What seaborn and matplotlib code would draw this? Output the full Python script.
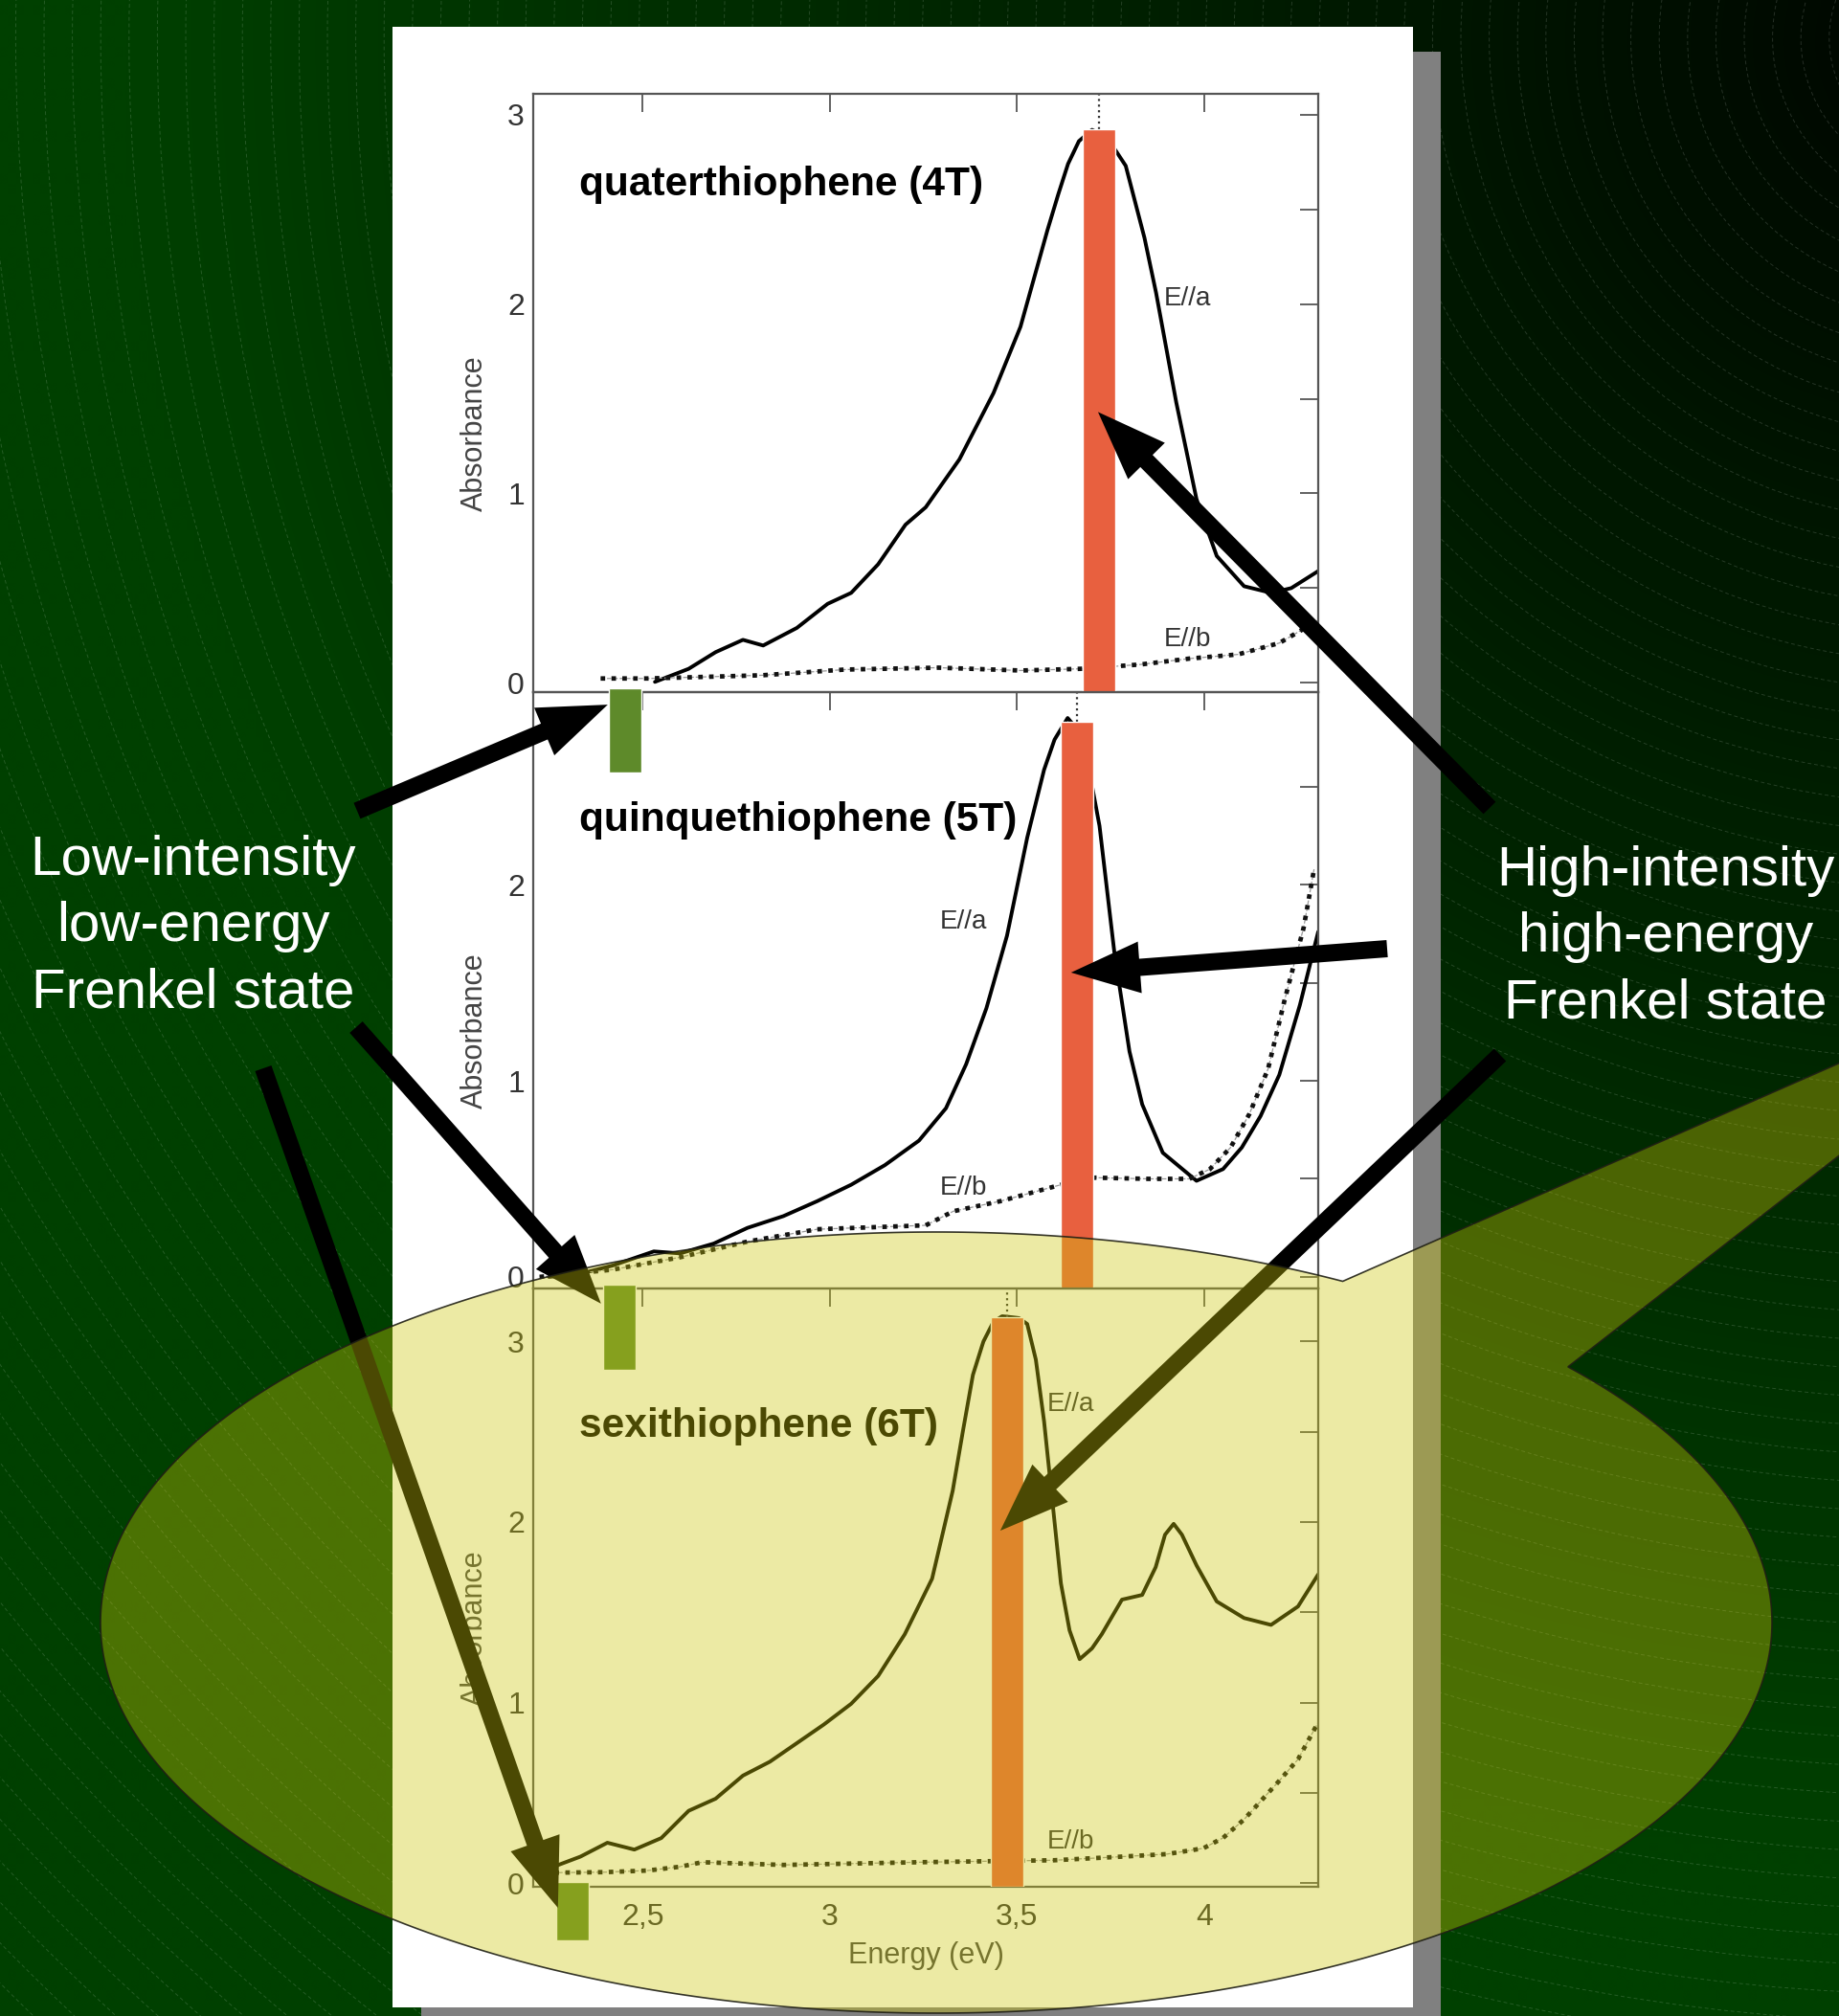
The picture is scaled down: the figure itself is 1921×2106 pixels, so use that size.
import numpy as np
import matplotlib
matplotlib.use('Agg')
import matplotlib.pyplot as plt
import seaborn as sns
from matplotlib.patches import Rectangle, Circle, Polygon
from matplotlib.ticker import FixedLocator, MultipleLocator

sns.set_style('white')
plt.rcParams['font.family'] = ['Liberation Sans', 'DejaVu Sans']

# spectra (energy in eV, absorbance)
e4a_x = [2.533, 2.623, 2.695, 2.768, 2.822, 2.912, 2.994, 3.057, 3.129, 3.202, 3.256, 3.346, 3.437,
         3.509, 3.581, 3.61, 3.636, 3.665, 3.70, 3.74, 3.79, 3.84, 3.871, 3.925, 3.979, 4.033,
         4.106, 4.178, 4.232, 4.304]
e4a_y = [0.005, 0.074, 0.162, 0.227, 0.197, 0.29, 0.417, 0.475, 0.626, 0.835, 0.927, 1.18, 1.53,
         1.88, 2.39, 2.58, 2.74, 2.86, 2.92, 2.88, 2.73, 2.35, 2.06, 1.48, 0.97, 0.67,
         0.51, 0.475, 0.50, 0.59]
e4b_x = [2.388, 2.514, 2.64, 2.82, 3.04, 3.29, 3.51, 3.67, 3.83, 3.96, 4.09, 4.20, 4.304]
e4b_y = [0.023, 0.023, 0.03, 0.04, 0.07, 0.08, 0.065, 0.074, 0.097, 0.128, 0.15, 0.21, 0.33]

e5a_x = [2.25, 2.334, 2.42, 2.53, 2.60, 2.69, 2.78, 2.876, 2.966, 3.057, 3.147, 3.238, 3.31, 3.364,
         3.418, 3.473, 3.527, 3.572, 3.60, 3.635, 3.675, 3.72, 3.76, 3.80, 3.834, 3.889, 3.979,
         4.05, 4.10, 4.15, 4.20, 4.255, 4.304]
e5a_y = [0.0, 0.016, 0.058, 0.13, 0.12, 0.17, 0.25, 0.31, 0.386, 0.47, 0.57, 0.695, 0.86, 1.085,
         1.37, 1.74, 2.24, 2.586, 2.74, 2.85, 2.76, 2.30, 1.65, 1.15, 0.88, 0.633, 0.49,
         0.55, 0.66, 0.82, 1.03, 1.386, 1.76]
e5b_x = [2.225, 2.42, 2.60, 2.78, 2.966, 3.11, 3.256, 3.33, 3.455, 3.617, 3.708, 3.85, 3.96,
         4.015, 4.07, 4.12, 4.17, 4.214, 4.265, 4.293]
e5b_y = [0.0, 0.037, 0.10, 0.18, 0.243, 0.253, 0.263, 0.335, 0.386, 0.47, 0.506, 0.50, 0.50,
         0.55, 0.66, 0.83, 1.06, 1.41, 1.78, 2.08]

e6a_x = [2.215, 2.252, 2.334, 2.406, 2.478, 2.55, 2.623, 2.695, 2.768, 2.84, 2.912, 2.984, 3.057,
         3.129, 3.20, 3.273, 3.328, 3.355, 3.382, 3.41, 3.437, 3.46, 3.48, 3.505, 3.527, 3.55,
         3.572, 3.595, 3.617, 3.64, 3.667, 3.70, 3.726, 3.78, 3.834, 3.87, 3.895, 3.918, 3.94,
         3.979, 4.033, 4.106, 4.178, 4.25, 4.304]
e6a_y = [0.06, 0.082, 0.146, 0.223, 0.185, 0.249, 0.40, 0.467, 0.595, 0.672, 0.775, 0.878, 0.993,
         1.147, 1.378, 1.686, 2.173, 2.50, 2.815, 3.0, 3.11, 3.14, 3.136, 3.13, 3.097, 2.9,
         2.558, 2.10, 1.66, 1.40, 1.24, 1.30, 1.378, 1.57, 1.596, 1.75, 1.93, 1.99, 1.93,
         1.76, 1.56, 1.468, 1.43, 1.532, 1.71]
e6b_x = [2.207, 2.40, 2.514, 2.60, 2.659, 2.876, 3.238, 3.60, 3.78, 3.90, 3.997, 4.05, 4.106,
         4.196, 4.25, 4.304]
e6b_y = [0.056, 0.06, 0.069, 0.09, 0.115, 0.10, 0.115, 0.126, 0.146, 0.16, 0.192, 0.25, 0.352,
         0.557, 0.685, 0.89]

titles = ['quaterthiophene (4T)', 'quinquethiophene (5T)', 'sexithiophene (6T)']
title_y = [2.63, 2.33, 2.53]
ylims = [(-0.049, 3.11), (-0.059, 2.982), (-0.021, 3.294)]
yticks = [[0, 1, 2, 3], [0, 1, 2], [0, 1, 2, 3]]
xticks = [2.5, 3, 3.5, 4]
xtick_labels = ['2,5', '3', '3,5', '4']

# high-energy (peak) markers, one per panel
peak_x = [3.718, 3.660, 3.473]
peak_top = [2.924, 2.83, 3.135]
# low-energy markers: panel index, energy, bottom, top
low_panel = [1, 2, 2]
low_x = [2.453, 2.437, 2.312]
low_lo = [2.572, 2.843, -0.318]
low_hi = [3.001, 3.316, 0.005]
lab_a = [(3.892, 2.026), (3.294, 1.81), (3.58, 2.65)]
lab_b = [(3.892, 0.229), (3.294, 0.454), (3.58, 0.228)]

spectra = [(e4a_x, e4a_y, e4b_x, e4b_y), (e5a_x, e5a_y, e5b_x, e5b_y), (e6a_x, e6a_y, e6b_x, e6b_y)]

W, H = 1921, 2106
fig = plt.figure(figsize=(W / 100, H / 100), dpi=100)

# background: dark radial gradient with faint rings, slide panel with shadow
bg = fig.add_axes([0, 0, 1, 1], zorder=-10)
yy, xx = np.mgrid[0:H:8, 0:W:8]
rr = np.hypot(xx - 2030, yy - 40)
g = (6 + 58 * np.clip(rr / 1900, 0, 1)) / 255
bg.imshow(np.dstack([np.zeros_like(g), g, np.zeros_like(g)]), extent=(0, W, H, 0),
          interpolation='bilinear', aspect='auto')
for rad in np.arange(60, 2900, 29.6):
    bg.add_patch(Circle((2030, 40), rad, fill=False, ec=(1, 1, 1, 0.15), lw=0.7, ls=(0, (4, 3))))
bg.add_patch(Rectangle((440, 54), 1065, 2080, fc='#808080', ec='none'))
bg.add_patch(Rectangle((410, 28), 1066, 2069, fc='white', ec='none'))
bg.set_xlim(0, W)
bg.set_ylim(H, 0)
bg.axis('off')

panel_px = [(98, 723), (723, 1346), (1346, 1971)]
axes = []
for i, (top, bot) in enumerate(panel_px):
    ax = fig.add_axes([557 / W, 1 - bot / H, 820 / W, (bot - top) / H])
    ax.set_facecolor('none')
    ax_, ay_, bx_, by_ = spectra[i]
    sns.lineplot(x=ax_, y=ay_, ax=ax, sort=False, estimator=None, color='black', lw=2.8,
                 solid_joinstyle='round')
    sns.lineplot(x=bx_, y=by_, ax=ax, sort=False, estimator=None, color='#999999', lw=0.9, ls='--')
    sns.lineplot(x=bx_, y=by_, ax=ax, sort=False, estimator=None, color='#111111', lw=3.4,
                 ls=(0, (1, 1.4)))
    ax.bar(peak_x[i], peak_top[i] - ylims[i][0], bottom=ylims[i][0], width=0.087,
           color='#E8603F', zorder=3)
    ax.vlines(peak_x[i], peak_top[i], ylims[i][1], colors='#333333', linestyles=':', lw=1.6)

    ax.text(2.331, title_y[i], titles[i], fontsize=30.5, fontweight='bold', color='black',
            va='center', ha='left')
    ax.text(*lab_a[i], 'E//a', fontsize=20, color='#333333', va='center')
    ax.text(*lab_b[i], 'E//b', fontsize=20, color='#333333', va='center')

    ax.set_xlim(2.208, 4.304)
    ax.set_ylim(*ylims[i])
    ax.set_xticks(xticks)
    ax.yaxis.set_major_locator(FixedLocator(yticks[i]))
    ax.yaxis.set_minor_locator(MultipleLocator(0.5))
    ax.tick_params(which='both', direction='in', top=True, right=True, length=14, width=1.3,
                   color='#555555', labelsize=23, labelcolor='#333333')
    ax.tick_params(axis='y', pad=6.5)
    ax.tick_params(axis='x', pad=12)
    for s in ax.spines.values():
        s.set_color('#555555')
        s.set_linewidth(1.6)
    ax.set_ylabel('Absorbance', fontsize=22, color='#444444')
    ax.yaxis.set_label_coords(-0.056, 0.432)
    if i < 2:
        ax.tick_params(axis='x', labelbottom=False)
        ax.set_xlabel('')
    else:
        ax.set_xticklabels(xtick_labels)
        ax.set_xlabel('Energy (eV)', fontsize=22, color='#444444')
        ax.xaxis.set_label_coords(0.5, -0.091)
    axes.append(ax)

for k, x, lo, hi in zip(low_panel, low_x, low_lo, low_hi):
    axes[k].bar(x, hi - lo, bottom=lo, width=0.087, color='#5E8A2A', zorder=3, clip_on=False)

# overlay in pixel coordinates: arrows, speech bubble, captions
ov = fig.add_axes([0, 0, 1, 1], zorder=10)
ov.set_xlim(0, W)
ov.set_ylim(H, 0)
ov.axis('off')
ov.patch.set_alpha(0)

arrows = [((1556, 844), 0, (3.716, 1.43)),
          ((1449, 991), 1, (3.644, 1.552)),
          ((1567, 1102), 2, (3.455, 1.952)),
          ((373, 847), 1, (2.407, 2.918)),
          ((372, 1073), 2, (2.389, 3.21)),
          ((275, 1116), 2, (2.274, -0.138))]
inv = ov.transData.inverted()
for (tx, ty), k, tip in arrows:
    hx, hy = inv.transform(axes[k].transData.transform(tip))
    ov.arrow(tx, ty, hx - tx, hy - ty, width=18, head_width=54, head_length=72,
             length_includes_head=True, fc='black', ec='none', zorder=4)

cx, cy, ra, rb = 978, 1695, 873, 408
th = np.radians(np.linspace(-40.9, 299.1, 500))
pts = np.column_stack([cx + ra * np.cos(th), cy + rb * np.sin(th)])
pts = np.vstack([pts, [[2205, 986]]])
ov.add_patch(Polygon(pts, closed=True, fc=(205 / 255, 200 / 255, 10 / 255, 0.37),
                     ec=(0.12, 0.12, 0.08, 0.9), lw=1.2, zorder=5))

ov.text(202, 968, 'Low-intensity\nlow-energy\nFrenkel state', ha='center', va='center',
        multialignment='center', fontsize=42, linespacing=1.36, color='white', zorder=6)
ov.text(1740, 979, 'High-intensity\nhigh-energy\nFrenkel state', ha='center', va='center',
        multialignment='center', fontsize=42, linespacing=1.36, color='white', zorder=6)

fig.savefig('out.png', dpi=100)
